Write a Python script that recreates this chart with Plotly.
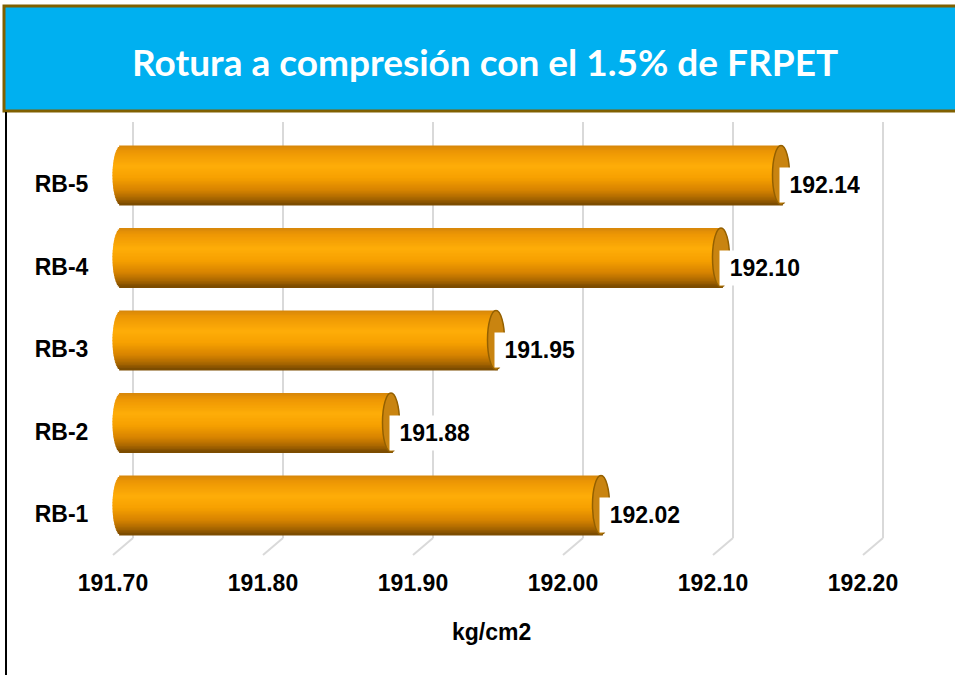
import math
import plotly.graph_objects as go

# ---------------- data ----------------
categories = ["RB-1", "RB-2", "RB-3", "RB-4", "RB-5"]
values = [192.02, 191.88, 191.95, 192.10, 192.14]
x_ticks = [191.70, 191.80, 191.90, 192.00, 192.10, 192.20]
x_tick_labels = ["191.70", "191.80", "191.90", "192.00", "192.10", "192.20"]
axis_min = 191.70
title_text = "Rotura a compresión con el 1.5% de FRPET"
x_title = "kg/cm2"

# ---------------- geometry ----------------
W, H = 955, 675
ML, MR, MT, MB = 106, 54, 122, 115
X_RANGE = [191.69, 192.22]
Y_RANGE = [-0.5576, 4.7515]
PW = W - ML - MR
PH = H - MT - MB
ppu_x = PW / (X_RANGE[1] - X_RANGE[0])
ppu_y = PH / (Y_RANGE[1] - Y_RANGE[0])


def xp(px):
    return (px - ML) / PW


def yp(py):
    return (H - MB - py) / PH


bar_shift = 9 / ppu_y       # bar centre sits a little above the category
bar_h = 59 / ppu_y          # bar thickness
cap = 8.5 / ppu_x           # half width of the elliptical ends (data units)

# cylinder shading stops (top -> bottom)
stops = [
    (0.00, (214, 134, 10)),
    (0.10, (236, 150, 4)),
    (0.35, (255, 173, 8)),
    (0.55, (246, 160, 0)),
    (0.75, (216, 132, 0)),
    (0.90, (168, 102, 0)),
    (1.00, (118, 72, 0)),
]


def shade(t):
    for (t0, c0), (t1, c1) in zip(stops[:-1], stops[1:]):
        if t0 <= t <= t1:
            f = (t - t0) / (t1 - t0)
            c = [round(a + (b - a) * f) for a, b in zip(c0, c1)]
            return "rgb(%d,%d,%d)" % tuple(c)
    return "rgb(%d,%d,%d)" % stops[-1][1]


fig = go.Figure()

N = 40
step = bar_h / N
for i in range(N):
    t = (i + 0.5) / N
    u = 2 * t - 1
    s = math.sqrt(max(0.0, 1 - u * u))
    base = axis_min - cap * s
    lengths = [v + cap * s - base for v in values]
    top = bar_shift + bar_h / 2
    off = top - (i + 1) * step - step * 0.6
    fig.add_trace(go.Bar(
        y=categories, x=lengths, base=base, orientation="h",
        width=step * 1.6, offset=off,
        marker=dict(color=shade(t), line=dict(width=0)),
        showlegend=False, hoverinfo="skip",
    ))

shapes = []
# title bar
shapes.append(dict(type="rect", xref="paper", yref="paper",
                   x0=xp(4), x1=xp(962), y0=yp(6), y1=yp(111),
                   fillcolor="#00B0F0", line=dict(color="#806000", width=3),
                   layer="below"))
# left frame line
shapes.append(dict(type="line", xref="paper", yref="paper",
                   x0=xp(6), x1=xp(6), y0=yp(112), y1=yp(680),
                   line=dict(color="#000000", width=2)))
# 3D gridlines (back wall + floor)
for v in x_ticks:
    shapes.append(dict(type="line", xref="x", xsizemode="pixel", xanchor=v,
                       x0=12, x1=12, yref="paper", y0=yp(538), y1=yp(122),
                       line=dict(color="#D9D9D9", width=2), layer="below"))
    shapes.append(dict(type="line", xref="x", xsizemode="pixel", xanchor=v,
                       x0=12, x1=-8, yref="paper", y0=yp(538), y1=yp(555),
                       line=dict(color="#D9D9D9", width=2), layer="below"))
# end faces of the cylinders
for idx, v in enumerate(values):
    shapes.append(dict(type="circle", xref="x", xsizemode="pixel", xanchor=v,
                       x0=-8.5, x1=8.5, yref="y",
                       y0=idx + bar_shift - bar_h / 2, y1=idx + bar_shift + bar_h / 2,
                       fillcolor="#C98410", line=dict(color="#946000", width=1.5),
                       layer="above"))

annotations = []
lab_font = dict(family="Liberation Sans, Arial", size=23, color="#000000", weight="bold")
for idx, v in enumerate(values):
    annotations.append(dict(x=v, y=categories[idx], xref="x", yref="y",
                            text="%.2f" % v, showarrow=False,
                            xanchor="left", yanchor="middle", xshift=-2, yshift=-1,
                            width=76, align="right",
                            bgcolor="#FFFFFF", borderpad=4, font=lab_font))
annotations.append(dict(x=xp(485), y=yp(61), xref="paper", yref="paper",
                        text=title_text, showarrow=False,
                        xanchor="center", yanchor="middle",
                        font=dict(family="Lato, Open Sans", size=37, color="#FFFFFF",
                                  weight="bold")))
annotations.append(dict(x=xp(491), y=yp(632), xref="paper", yref="paper",
                        text=x_title, showarrow=False,
                        xanchor="center", yanchor="middle", font=lab_font))

fig.update_layout(
    width=W, height=H,
    margin=dict(l=ML, r=MR, t=MT, b=MB, autoexpand=False),
    paper_bgcolor="#FFFFFF", plot_bgcolor="rgba(0,0,0,0)",
    barmode="overlay", showlegend=False,
    shapes=shapes, annotations=annotations,
    xaxis=dict(range=X_RANGE, tickvals=x_ticks, ticktext=x_tick_labels,
               showgrid=False, zeroline=False, showline=False,
               ticks="outside", ticklen=2, tickcolor="rgba(0,0,0,0)",
               ticklabelshift=-8, tickfont=lab_font),
    yaxis=dict(range=Y_RANGE, type="category", categoryorder="array",
               categoryarray=categories,
               showgrid=False, zeroline=False, showline=False,
               ticks="outside", ticklen=12, tickcolor="rgba(0,0,0,0)",
               tickfont=lab_font),
)

fig.write_html(
    "out.html",
    config={"displayModeBar": False},
    post_script="document.body.style.margin='0';document.body.style.overflow='hidden';",
)
